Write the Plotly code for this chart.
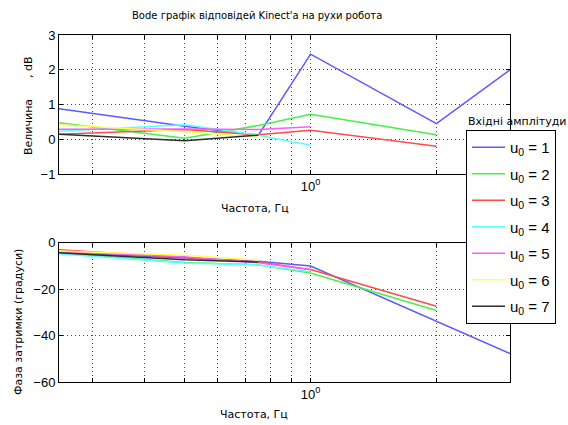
import plotly.graph_objects as go
from plotly.subplots import make_subplots

freq = [0.25, 0.5, 0.75, 1.0, 2.0, 3.0]
labels = ["u<sub>0</sub> = 1", "u<sub>0</sub> = 2", "u<sub>0</sub> = 3", "u<sub>0</sub> = 4",
          "u<sub>0</sub> = 5", "u<sub>0</sub> = 6", "u<sub>0</sub> = 7"]
colors = ["rgb(90,90,255)", "rgb(70,240,70)", "rgb(255,75,75)", "rgb(90,255,255)",
          "rgb(255,90,255)", "rgb(255,255,80)", "rgb(45,45,45)"]

mag_u1 = [0.88, 0.38, 0.12, 2.45, 0.45, 2.0]
mag_u2 = [0.48, 0.03, 0.40, 0.72, 0.13]
mag_u3 = [0.15, 0.28, 0.13, 0.26, -0.20]
mag_u4 = [0.23, 0.42, 0.12, -0.17]
mag_u5 = [0.29, 0.30, 0.28, 0.36]
mag_u6 = [0.42, 0.22, 0.07]
mag_u7 = [0.15, -0.04, 0.12]

ph_u1 = [-4.2, -6.5, -7.9, -10.0, -33.8, -47.7]
ph_u2 = [-4.3, -8.5, -9.5, -13.0, -29.2]
ph_u3 = [-3.0, -6.2, -8.3, -11.5, -27.3]
ph_u4 = [-4.8, -8.7, -9.5, -12.5]
ph_u5 = [-3.8, -6.0, -8.6, -11.6]
ph_u6 = [-3.5, -5.3, -7.5]
ph_u7 = [-4.3, -7.3, -8.3]

mags = [mag_u1, mag_u2, mag_u3, mag_u4, mag_u5, mag_u6, mag_u7]
phases = [ph_u1, ph_u2, ph_u3, ph_u4, ph_u5, ph_u6, ph_u7]

title_text = "Bode графік відповідей Kinect'а на рухи робота"
xlabel = "Частота, Гц"
ylabel_mag = "Величина      , dB"
ylabel_ph = "Фаза затримки (градуси)"
legend_title = "Вхідні амплітуди"

x_tickvals = [0.3, 0.4, 0.5, 0.6, 0.7, 0.8, 0.9, 1, 2, 3]
x_ticktext = ["", "", "", "", "", "", "", "10<sup>0</sup>", "", ""]

fig = make_subplots(rows=2, cols=1, vertical_spacing=0.198)

for i in range(7):
    fig.add_trace(go.Scatter(x=freq[:len(mags[i])], y=mags[i], mode="lines",
                             line=dict(color=colors[i], width=1.5),
                             name=labels[i], legendgroup=f"g{i}", showlegend=True),
                  row=1, col=1)
for i in range(7):
    fig.add_trace(go.Scatter(x=freq[:len(phases[i])], y=phases[i], mode="lines",
                             line=dict(color=colors[i], width=1.5),
                             name=labels[i], legendgroup=f"g{i}", showlegend=False),
                  row=2, col=1)

axis_common = dict(showline=True, linecolor="black", linewidth=1, mirror="allticks",
                   ticks="inside", ticklen=4, tickcolor="black",
                   showgrid=True, gridcolor="rgb(70,70,70)", gridwidth=1, griddash="1px,3px",
                   zeroline=False, tickfont=dict(family="Liberation Sans", size=13, color="black"))

for r in (1, 2):
    fig.update_xaxes(type="log", range=[-0.60206, 0.47712], tickvals=x_tickvals,
                     ticktext=x_ticktext, row=r, col=1, **axis_common)

fig.update_yaxes(range=[-1, 3], tickvals=[-1, 0, 1, 2, 3], row=1, col=1, **axis_common)
fig.update_yaxes(range=[-60, 0], tickvals=[-60, -40, -20, 0], row=2, col=1, **axis_common)

lbl_font = dict(family="DejaVu Sans", size=11, color="black")
title_font = dict(family="DejaVu Sans", size=10, color="black")
W, H = 568, 425
ml, mr, mt, mb = 59, 58, 35, 43
pw, ph = W - ml - mr, H - mt - mb


def px(x):
    return (x - ml) / pw


def py(y):
    return (H - mb - y) / ph


fig.update_layout(
    width=W, height=H, margin=dict(l=ml, r=mr, t=mt, b=mb, autoexpand=False),
    paper_bgcolor="white", plot_bgcolor="white",
    showlegend=True,
    legend=dict(x=px(466), y=py(130), xanchor="left", yanchor="top",
                bgcolor="white", bordercolor="black", borderwidth=1,
                font=dict(family="Liberation Sans", size=15, color="black"),
                itemwidth=33,
                traceorder="grouped", tracegroupgap=4),
    annotations=[
        dict(text=title_text, x=px(257), y=py(15), xref="paper", yref="paper",
             showarrow=False, xanchor="center", yanchor="middle", font=title_font),
        dict(text=xlabel, x=px(255), y=py(208), xref="paper", yref="paper",
             showarrow=False, xanchor="center", yanchor="middle", font=lbl_font),
        dict(text=xlabel, x=px(254), y=py(414), xref="paper", yref="paper",
             showarrow=False, xanchor="center", yanchor="middle", font=lbl_font),
        dict(text=ylabel_mag, x=px(28), y=py(105), xref="paper", yref="paper",
             showarrow=False, xanchor="center", yanchor="middle", textangle=-90, font=lbl_font),
        dict(text=ylabel_ph, x=px(18), y=py(322), xref="paper", yref="paper",
             showarrow=False, xanchor="center", yanchor="middle", textangle=-90, font=lbl_font),
        dict(text=legend_title, x=px(517), y=py(121), xref="paper", yref="paper",
             showarrow=False, xanchor="center", yanchor="middle", font=lbl_font),
    ],
)

fig.write_html("out.html")
